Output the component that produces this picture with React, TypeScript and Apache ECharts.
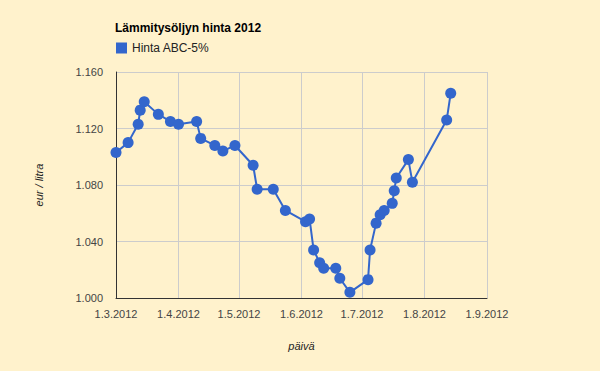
import React, { useEffect, useRef } from "react";
import * as echarts from "echarts";

const dates: string[] = [
  "2012-03-01", "2012-03-07", "2012-03-12", "2012-03-13", "2012-03-15", "2012-03-22",
  "2012-03-28", "2012-04-01", "2012-04-10", "2012-04-12", "2012-04-19", "2012-04-23",
  "2012-04-29", "2012-05-08", "2012-05-10", "2012-05-18", "2012-05-24", "2012-06-03",
  "2012-06-05", "2012-06-07", "2012-06-10", "2012-06-12", "2012-06-18", "2012-06-20",
  "2012-06-25", "2012-07-04", "2012-07-05", "2012-07-08", "2012-07-10", "2012-07-12",
  "2012-07-16", "2012-07-17", "2012-07-18", "2012-07-24", "2012-07-26", "2012-08-12",
  "2012-08-14",
];
const prices: number[] = [
  1.103, 1.110, 1.123, 1.133, 1.139, 1.130,
  1.125, 1.123, 1.125, 1.113, 1.108, 1.104,
  1.108, 1.094, 1.077, 1.077, 1.062, 1.054,
  1.056, 1.034, 1.025, 1.021, 1.021, 1.014,
  1.004, 1.013, 1.034, 1.053, 1.059, 1.062,
  1.067, 1.076, 1.085, 1.098, 1.082, 1.126,
  1.145,
];
const seriesName = "Hinta ABC-5%";
const chartTitle = "Lämmitysöljyn hinta 2012";
const xName = "päivä";
const yName = "eur / litra";

function toTime(s: string): number {
  const [y, m, d] = s.split("-").map(Number);
  return new Date(y, m - 1, d).getTime();
}

export default function App() {
  const ref = useRef<HTMLDivElement>(null);
  useEffect(() => {
    if (!ref.current) return;
    const chart = echarts.init(ref.current, null, { renderer: "svg" });
    const font = "Arial, 'Liberation Sans', sans-serif";
    chart.setOption({
      animation: false,
      backgroundColor: "#FFF2CC",
      textStyle: { fontFamily: font },
      title: {
        text: chartTitle,
        left: 110,
        top: 17,
        textStyle: { fontSize: 12, fontWeight: "bold", color: "#000", fontFamily: font },
      },
      legend: {
        left: 111,
        top: 37,
        icon: "rect",
        itemWidth: 11,
        itemHeight: 11,
        itemGap: 5,
        textStyle: { fontSize: 12, color: "#222", fontFamily: font },
        data: [seriesName],
      },
      grid: { left: 116, right: 113, top: 72, bottom: 73, containLabel: false },
      xAxis: {
        type: "time",
        min: toTime("2012-03-01"),
        max: toTime("2012-09-01"),
        splitNumber: 6,
        name: xName,
        nameLocation: "middle",
        nameGap: 42,
        nameTextStyle: { fontStyle: "italic", fontSize: 11, color: "#222", fontFamily: font },
        axisLine: { show: true, lineStyle: { color: "#333", width: 1 } },
        axisTick: { show: false },
        splitLine: { show: true, lineStyle: { color: "#ccc", width: 1 } },
        axisLabel: {
          fontSize: 11,
          color: "#444",
          margin: 10,
          hideOverlap: false,
          showMinLabel: true,
          showMaxLabel: true,
          formatter: (v: number) => {
            const d = new Date(v);
            return d.getDate() + "." + (d.getMonth() + 1) + "." + d.getFullYear();
          },
        },
      },
      yAxis: {
        type: "value",
        min: 1.0,
        max: 1.16,
        interval: 0.04,
        name: yName,
        nameLocation: "middle",
        nameGap: 72,
        nameTextStyle: { fontStyle: "italic", fontSize: 11, color: "#222", fontFamily: font },
        axisLine: { show: true, lineStyle: { color: "#333", width: 1 } },
        axisTick: { show: false },
        splitLine: { show: true, lineStyle: { color: "#ccc", width: 1 } },
        axisLabel: {
          fontSize: 11,
          color: "#444",
          margin: 13,
          formatter: (v: number) => v.toFixed(3),
        },
      },
      series: [
        {
          name: seriesName,
          type: "line",
          data: dates.map((d, i) => [toTime(d), prices[i]]),
          symbol: "circle",
          symbolSize: 11,
          showAllSymbol: true,
          itemStyle: { color: "#3366CC" },
          lineStyle: { color: "#3366CC", width: 2 },
        },
      ],
    });
    return () => chart.dispose();
  }, []);
  return <div ref={ref} style={{ width: 600, height: 371, position: "absolute", left: 0, top: 0 }} />;
}
